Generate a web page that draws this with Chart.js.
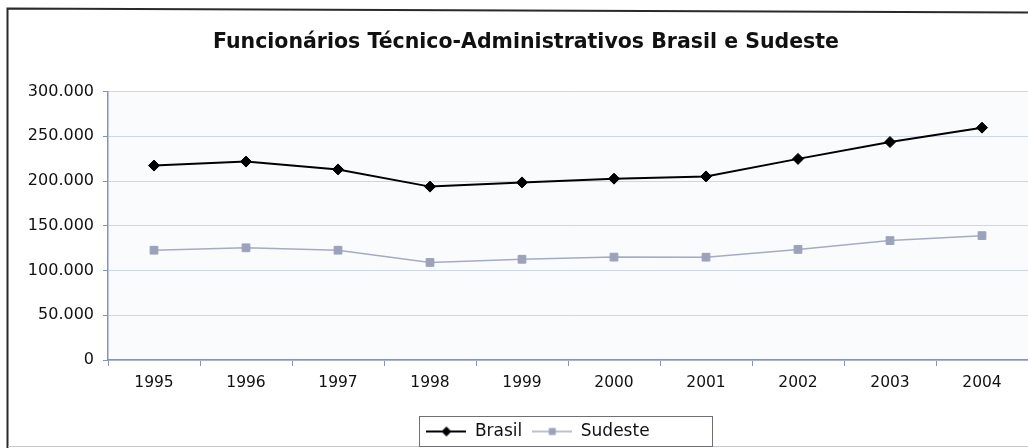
<!DOCTYPE html>
<html>
<head>
<meta charset="utf-8">
<script src="https://cdn.jsdelivr.net/npm/chart.js@4.4.1/dist/chart.umd.min.js"></script>
<style>
  html, body { margin: 0; padding: 0; background: #ffffff; }
  #wrap { width: 1028px; height: 448px; position: relative; }
</style>
</head>
<body>
<div id="wrap"><canvas id="c" width="1028" height="448"></canvas></div>
<script>
const chartTitle = 'Funcionários Técnico-Administrativos Brasil e Sudeste';
const years = ['1995', '1996', '1997', '1998', '1999', '2000', '2001', '2002', '2003', '2004'];
const seriesNames = ['Brasil', 'Sudeste'];
const brasil = [217300, 221800, 213000, 193800, 198500, 202700, 205200, 224800, 243600, 259700];
const sudeste = [122700, 125400, 122700, 109000, 112600, 115000, 114900, 123600, 133500, 139000];
const yTicks = [0, 50000, 100000, 150000, 200000, 250000, 300000];

const axisBlue = '#8592bf';
const gridBlue = '#cdd5e7';
const sudColor = '#a6abc4';
const sudMarker = '#9da2bb';

function fmt(v) {
  return String(v).replace(/\B(?=(\d{3})+(?!\d))/g, '.');
}

function legendImage(kind) {
  const cv = document.createElement('canvas');
  cv.width = 40; cv.height = 14;
  const g = cv.getContext('2d');
  g.strokeStyle = kind === 0 ? '#000' : sudColor;
  g.lineWidth = kind === 0 ? 2 : 1.5;
  g.beginPath(); g.moveTo(0, 7); g.lineTo(40, 7); g.stroke();
  g.fillStyle = kind === 0 ? '#000' : sudMarker;
  if (kind === 0) {
    g.beginPath(); g.moveTo(20, 2); g.lineTo(25, 7); g.lineTo(20, 12); g.lineTo(15, 7); g.closePath(); g.fill();
  } else {
    g.fillRect(16.5, 3.5, 7, 7);
  }
  return cv;
}
const legendImgs = [legendImage(0), legendImage(1)];

const decor = {
  id: 'decor',
  afterLayout(chart) {
    if (chart.legend) {
      chart.legend.left += 12;
      chart.legend.right += 12;
    }
  },
  beforeDraw(chart) {
    const ctx = chart.ctx;
    const a = chart.chartArea;
    ctx.save();
    ctx.fillStyle = '#fafbfd';
    ctx.fillRect(a.left, a.top, a.right - a.left, a.bottom - a.top);
    // outer frame
    ctx.strokeStyle = '#2a2a2a';
    ctx.lineWidth = 2;
    ctx.beginPath();
    ctx.moveTo(7.5, 448); ctx.lineTo(7.5, 8.5); ctx.lineTo(1028, 12.5);
    ctx.stroke();
    ctx.strokeStyle = '#c8c8c8';
    ctx.lineWidth = 1;
    ctx.beginPath(); ctx.moveTo(8, 446.5); ctx.lineTo(1028, 446.5); ctx.stroke();
    ctx.restore();
  },
  afterDraw(chart) {
    const lg = chart.legend;
    if (!lg || !lg.legendHitBoxes || !lg.legendHitBoxes.length) return;
    const hb = lg.legendHitBoxes;
    let l = Infinity, r = -Infinity, t = Infinity, b = -Infinity;
    hb.forEach(h => {
      l = Math.min(l, h.left); r = Math.max(r, h.left + h.width);
      t = Math.min(t, h.top); b = Math.max(b, h.top + h.height);
    });
    const ctx = chart.ctx;
    ctx.save();
    ctx.strokeStyle = '#6f6f7a';
    ctx.lineWidth = 1;
    ctx.strokeRect(Math.round(l - 7) + 0.5, Math.round(t - 7) + 0.5, Math.round(r - l + 70), Math.round(b - t + 13));
    ctx.restore();
  }
};

new Chart(document.getElementById('c'), {
  type: 'line',
  data: {
    labels: years,
    datasets: [
      {
        label: seriesNames[0],
        data: brasil,
        borderColor: '#000000',
        backgroundColor: '#000000',
        borderWidth: 2,
        pointStyle: 'rectRot',
        pointRadius: 5.5,
        pointBorderWidth: 1,
        pointBorderColor: '#000000',
        pointBackgroundColor: '#000000',
        tension: 0
      },
      {
        label: seriesNames[1],
        data: sudeste,
        borderColor: sudColor,
        backgroundColor: sudMarker,
        borderWidth: 1.5,
        pointStyle: 'rect',
        pointRadius: 5.5,
        pointBorderWidth: 1,
        pointBorderColor: sudMarker,
        pointBackgroundColor: sudMarker,
        tension: 0
      }
    ]
  },
  options: {
    responsive: false,
    animation: false,
    devicePixelRatio: 1,
    layout: { autoPadding: false, padding: { left: 24, right: 0, top: 0, bottom: -2 } },
    plugins: {
      tooltip: { enabled: false },
      title: {
        display: true,
        text: chartTitle,
        color: '#111111',
        font: { family: 'DejaVu Sans', size: 20.5, weight: 'bold' },
        padding: { top: 30, bottom: 37 }
      },
      legend: {
        display: true,
        position: 'bottom',
        labels: {
          usePointStyle: true,
          pointStyleWidth: 40,
          padding: 10,
          color: '#111111',
          font: { family: 'DejaVu Sans', size: 17 },
          generateLabels: (chart) => chart.data.datasets.map((ds, i) => ({
            text: ds.label,
            pointStyle: legendImgs[i],
            fillStyle: 'rgba(0,0,0,0)',
            strokeStyle: 'rgba(0,0,0,0)',
            lineWidth: 0,
            hidden: false,
            datasetIndex: i,
            fontColor: '#111111'
          }))
        }
      }
    },
    scales: {
      x: {
        offset: true,
        grid: {
          offset: true,
          drawOnChartArea: false,
          drawTicks: true,
          tickLength: 6,
          tickColor: axisBlue,
          tickWidth: 1
        },
        border: { color: axisBlue, width: 1.5 },
        ticks: {
          color: '#111111',
          font: { family: 'DejaVu Sans', size: 15.5 },
          padding: 8,
          maxRotation: 0,
          autoSkip: false
        },
        afterFit: (s) => { s.height = 53; }
      },
      y: {
        min: 0,
        max: 300000,
        afterBuildTicks: (s) => { s.ticks = yTicks.map(v => ({ value: v })); },
        grid: {
          color: gridBlue,
          lineWidth: 1,
          drawTicks: true,
          tickLength: 5,
          tickColor: axisBlue
        },
        border: { color: axisBlue, width: 1.5 },
        ticks: {
          color: '#111111',
          font: { family: 'DejaVu Sans', size: 16 },
          padding: 9,
          callback: (v) => fmt(v)
        },
        afterFit: (s) => { s.width = 84; }
      }
    }
  },
  plugins: [decor]
});
</script>
</body>
</html>
